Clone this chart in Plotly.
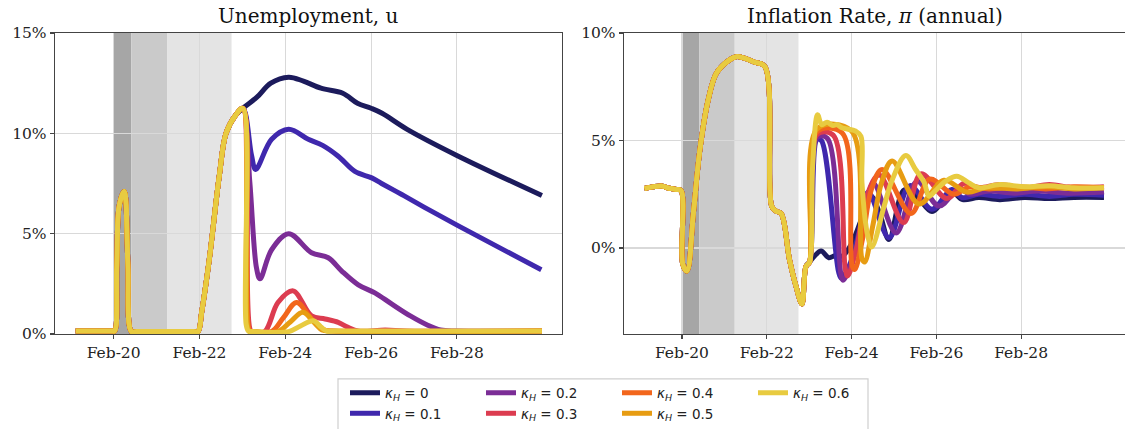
import plotly.graph_objects as go

# ---------------- data ----------------
kappa_labels = ["0", "0.1", "0.2", "0.3", "0.4", "0.5", "0.6"]
line_colors = ["#1c1b5c", "#3f28ad", "#7b2d96", "#dc3c50", "#f2661c", "#e79c12", "#e8cb40"]

# Unemployment (%) — path shared by every kappa up to Feb 2023
u_common_dates = ["2019-03-15", "2019-09-01", "2020-01-20", "2020-02-10", "2020-02-28", "2020-03-20",
                  "2020-05-01", "2020-06-01", "2020-07-01", "2020-08-15", "2021-06-01", "2021-12-15",
                  "2022-01-20", "2022-02-20", "2022-04-25", "2022-07-20", "2022-09-15", "2022-12-05",
                  "2023-02-05"]
u_common = [0.15, 0.15, 0.15, 0.15, 3.3, 6.4, 7.1, 3.6, 0.12, 0.12, 0.12, 0.12,
            0.12, 1.1, 3.7, 7.9, 10.0, 10.9, 11.25]

u_k0_dates = ["2023-06-05", "2023-10-01", "2024-03-01", "2024-07-05", "2024-12-01", "2025-06-05",
              "2025-10-08", "2026-02-01", "2026-05-05", "2026-12-05", "2028-02-01", "2030-01-25"]
u_k0 = [11.8, 12.5, 12.8, 12.6, 12.25, 12.0, 11.5, 11.25, 11.0, 10.2, 8.9, 6.9]

u_k1_dates = ["2023-04-20", "2023-05-25", "2023-10-08", "2024-03-01", "2024-08-15", "2024-12-15",
              "2025-04-27", "2025-09-16", "2026-02-06", "2026-05-01", "2026-10-20", "2027-05-05",
              "2028-02-10", "2030-01-20"]
u_k1 = [8.9, 8.2, 9.7, 10.2, 9.7, 9.4, 8.86, 8.1, 7.78, 7.5, 6.95, 6.3, 5.4, 3.2]

u_k2_dates = ["2023-04-05", "2023-06-01", "2023-07-01", "2023-10-08", "2024-03-01", "2024-09-12",
              "2025-02-01", "2025-05-25", "2025-10-15", "2026-03-05", "2026-07-25", "2027-01-01",
              "2027-05-25", "2027-09-15", "2028-02-01", "2030-01-25"]
u_k2 = [7.6, 3.3, 2.75, 4.2, 5.0, 4.05, 3.8, 3.15, 2.45, 2.05, 1.5, 0.9, 0.45, 0.2, 0.15, 0.15]

u_k3_dates = ["2023-03-12", "2023-04-15", "2023-05-10", "2023-08-10", "2023-12-01", "2024-04-08",
              "2024-09-12", "2025-01-05", "2025-04-27", "2025-07-20", "2025-10-15", "2026-06-01",
              "2026-12-01", "2030-01-25"]
u_k3 = [8.0, 0.15, 0.12, 0.12, 1.57, 2.15, 0.9, 0.75, 0.58, 0.33, 0.15, 0.2, 0.15, 0.15]

u_k4_dates = ["2023-03-10", "2023-04-08", "2023-05-10", "2023-10-08", "2024-01-15", "2024-05-08",
              "2024-09-12", "2025-01-01", "2025-04-01", "2030-01-25"]
u_k4 = [5.0, 0.14, 0.12, 0.12, 0.8, 1.57, 0.75, 0.2, 0.15, 0.15]

u_k5_dates = ["2023-03-08", "2023-04-01", "2023-05-10", "2023-12-01", "2024-03-15", "2024-07-01",
              "2024-10-15", "2024-12-10", "2025-03-01", "2030-01-25"]
u_k5 = [3.0, 0.14, 0.12, 0.12, 0.6, 1.08, 0.5, 0.2, 0.15, 0.15]

u_k6_dates = ["2023-03-05", "2023-03-25", "2023-05-10", "2024-03-01", "2024-06-10", "2024-09-27",
              "2024-12-01", "2025-01-20", "2025-04-01", "2030-01-25"]
u_k6 = [0.5, 0.15, 0.12, 0.12, 0.4, 0.66, 0.35, 0.15, 0.15, 0.15]

# Inflation (%, annual) — path shared by every kappa up to Feb 2023
pi_common_dates = ["2019-03-15", "2019-06-01", "2019-08-10", "2019-10-15", "2019-12-15", "2020-01-25",
                   "2020-02-08", "2020-03-15", "2020-05-10", "2020-07-05", "2020-09-15", "2020-11-25",
                   "2021-03-20", "2021-05-15", "2021-08-10", "2021-10-20", "2022-01-15", "2022-03-15",
                   "2022-04-20", "2022-06-05", "2022-08-15", "2022-10-10", "2022-12-01", "2023-01-05",
                   "2023-02-05"]
pi_common = [2.77, 2.85, 2.88, 2.78, 2.72, 2.67, -0.75, -1.07, 1.64, 4.58, 6.9, 8.14,
             8.76, 8.9, 8.8, 8.64, 8.45, 1.95, 1.72, 1.6, -0.52, -1.76, -2.6, -0.85, -0.65]

pi_k0_dates = ["2023-03-20", "2023-05-15", "2023-07-20", "2023-09-15", "2023-11-15", "2024-02-01",
               "2024-05-01", "2024-07-20", "2024-10-01", "2024-12-20", "2025-05-01", "2025-09-01",
               "2025-12-25", "2026-06-15", "2026-09-15", "2027-02-01", "2027-08-01", "2028-03-01",
               "2028-10-01", "2029-05-01", "2030-01-15"]
pi_k0 = [-0.37, -0.14, -0.45, -0.35, -0.37, 0.2, 1.4, 2.4, 1.6, 0.4, 2.7, 2.3,
         1.7, 2.6, 2.25, 2.35, 2.25, 2.35, 2.3, 2.35, 2.35]

pi_k1_dates = ["2023-04-10", "2023-05-17", "2023-10-12", "2023-11-05", "2024-01-14", "2024-04-08",
               "2024-06-24", "2024-12-21", "2025-06-18", "2025-12-25", "2026-06-13", "2026-09-12",
               "2027-02-01", "2027-08-01", "2028-03-01", "2028-10-01", "2029-05-01", "2030-01-15"]
pi_k1 = [5.05, 5.0, -1.1, -1.4, -0.8, 0.8, 2.6, 0.48, 2.9, 1.8, 2.72, 2.34,
         2.5, 2.4, 2.5, 2.4, 2.5, 2.45]

pi_k2_dates = ["2023-04-12", "2023-07-07", "2023-11-01", "2023-11-20", "2024-02-15", "2024-05-15",
               "2024-08-07", "2025-02-19", "2025-08-18", "2026-02-23", "2026-08-15", "2026-11-15",
               "2027-05-01", "2027-12-01", "2028-07-01", "2029-03-01", "2030-01-15"]
pi_k2 = [5.15, 5.1, -1.2, -1.5, -0.5, 1.2, 3.0, 0.7, 3.1, 1.95, 2.75, 2.5,
         2.65, 2.55, 2.65, 2.55, 2.6]

pi_k3_dates = ["2023-04-13", "2023-08-27", "2023-12-10", "2023-12-30", "2024-03-15", "2024-06-10",
               "2024-09-26", "2025-04-25", "2025-09-21", "2026-05-02", "2026-09-25", "2027-02-01",
               "2027-08-01", "2028-03-01", "2028-10-01", "2029-05-01", "2030-01-15"]
pi_k3 = [5.3, 5.25, -1.0, -1.3, 0.0, 2.4, 3.4, 1.18, 3.45, 2.3, 3.0, 2.8,
         2.95, 2.8, 2.95, 2.8, 2.85]

pi_k4_dates = ["2023-04-13", "2023-11-13", "2024-02-05", "2024-02-28", "2024-05-05", "2024-07-20",
               "2024-10-22", "2025-06-27", "2025-12-05", "2026-07-01", "2026-11-15", "2027-05-01",
               "2028-01-01", "2028-09-01", "2029-05-01", "2030-01-15"]
pi_k4 = [5.42, 5.35, -0.8, -1.0, 0.4, 2.7, 3.65, 1.6, 3.2, 2.5, 2.85, 2.75,
         2.85, 2.75, 2.85, 2.8]

pi_k5_dates = ["2023-04-13", "2024-01-30", "2024-05-01", "2024-05-25", "2024-08-01", "2024-10-20",
               "2025-01-16", "2025-09-04", "2026-04-08", "2026-10-20", "2027-04-01", "2028-01-01",
               "2028-09-01", "2029-05-01", "2030-01-15"]
pi_k5 = [5.55, 5.45, -0.5, -0.65, 1.0, 3.1, 4.05, 2.05, 3.15, 2.6, 2.8, 2.75,
         2.85, 2.75, 2.8]

pi_k6_dates = ["2023-03-03", "2023-04-15", "2023-05-20", "2023-07-05", "2023-08-25", "2023-10-01",
               "2023-11-10", "2024-03-10", "2024-04-22", "2024-05-01", "2024-06-20", "2024-07-25",
               "2024-11-08", "2025-01-18", "2025-05-14", "2025-08-06", "2025-10-20", "2025-11-29",
               "2026-01-20", "2026-04-20", "2026-07-27", "2026-11-05", "2027-02-01", "2027-08-01",
               "2028-03-01", "2028-10-01", "2029-05-01", "2030-01-15"]
pi_k6 = [3.8, 6.2, 5.74, 5.85, 5.7, 5.74, 5.59, 5.43, 5.2, 3.04, 0.56, 0.05,
         1.95, 3.19, 4.3, 3.65, 3.04, 2.41, 2.65, 3.1, 3.34, 3.04, 2.8, 2.95,
         2.85, 2.9, 2.8, 2.8]

# shaded periods
shade_starts = ["2020-02-01", "2020-07-01", "2021-05-01"]
shade_ends = ["2020-07-01", "2021-05-01", "2022-11-01"]
shade_colors = ["#a6a6a6", "#cacaca", "#e4e4e4"]

x_ticks = ["2020-02-01", "2022-02-01", "2024-02-01", "2026-02-01", "2028-02-01"]
x_range = ["2018-09-20", "2030-07-15"]
u_ticks = [0, 5, 10, 15]
u_ticktext = ["0%", "5%", "10%", "15%"]
pi_ticks = [0, 5, 10]
pi_ticktext = ["0%", "5%", "10%"]

u_branches = [(u_k0_dates, u_k0), (u_k1_dates, u_k1), (u_k2_dates, u_k2), (u_k3_dates, u_k3),
              (u_k4_dates, u_k4), (u_k5_dates, u_k5), (u_k6_dates, u_k6)]
pi_branches = [(pi_k0_dates, pi_k0), (pi_k1_dates, pi_k1), (pi_k2_dates, pi_k2), (pi_k3_dates, pi_k3),
               (pi_k4_dates, pi_k4), (pi_k5_dates, pi_k5), (pi_k6_dates, pi_k6)]

# legend rows (matplotlib fills column-wise: 0,0.2,0.4,0.6 on the first row)
legend_of = {0: "legend", 2: "legend", 4: "legend", 6: "legend",
             1: "legend2", 3: "legend2", 5: "legend2"}

# ---------------- figure ----------------
fig = go.Figure()
LW = 5
for i, lab in enumerate(kappa_labels):
    bd, bv = u_branches[i]
    fig.add_trace(go.Scatter(
        x=u_common_dates + bd, y=u_common + bv, mode="lines",
        line=dict(color=line_colors[i], width=LW, shape="spline", smoothing=1),
        name=f"<i>κ</i><sub><i>H</i></sub> = {lab}",
        legend=legend_of[i], showlegend=True, xaxis="x", yaxis="y", hoverinfo="skip"))
for i, lab in enumerate(kappa_labels):
    bd, bv = pi_branches[i]
    fig.add_trace(go.Scatter(
        x=pi_common_dates + bd, y=pi_common + bv, mode="lines",
        line=dict(color=line_colors[i], width=LW, shape="spline", smoothing=1),
        name=f"κ {lab}", showlegend=False, xaxis="x2", yaxis="y2", hoverinfo="skip"))

shapes = []
for xr, yr in (("x", "y domain"), ("x2", "y2 domain")):
    for s, e, c in zip(shade_starts, shade_ends, shade_colors):
        shapes.append(dict(type="rect", xref=xr, yref=yr, x0=s, x1=e, y0=0, y1=1,
                           fillcolor=c, line=dict(width=0), layer="below"))

W, H = 1125, 429
ML, MR, MT, MB = 55, 0, 33, 94
PW, PH = W - ML - MR, H - MT - MB


def px_x(p):
    return (p - ML) / PW


def px_y(p):
    return 1 - (p - MT) / PH


# legend frame
shapes.append(dict(type="rect", xref="paper", yref="paper",
                   x0=px_x(338), x1=px_x(868), y0=px_y(380), y1=px_y(432),
                   line=dict(color="#cfcfcf", width=1.2), fillcolor="rgba(0,0,0,0)", layer="above"))

tick_font = dict(family="DejaVu Serif", size=15.5, color="#222222")
axis_common = dict(showgrid=True, gridcolor="#d9d9d9", gridwidth=1.2, showline=True, mirror=True,
                   linecolor="#444444", linewidth=1.3, ticks="outside", ticklen=4,
                   tickcolor="#444444", tickwidth=1.2, tickfont=tick_font, zeroline=False)

left_dom = [0, px_x(562)]
right_dom = [px_x(624), 1.0]

legend_font = dict(family="DejaVu Sans", size=13.5, color="#222222")

fig.update_layout(
    width=W, height=H, margin=dict(l=ML, r=MR, t=MT, b=MB),
    paper_bgcolor="white", plot_bgcolor="white",
    xaxis=dict(domain=left_dom, type="date", range=x_range, tickvals=x_ticks, tickformat="%b-%y",
               anchor="y", **axis_common),
    yaxis=dict(domain=[0, 1], range=[0, 15], tickmode="array", tickvals=u_ticks,
               ticktext=u_ticktext, anchor="x", **axis_common),
    xaxis2=dict(domain=right_dom, type="date", range=x_range, tickvals=x_ticks, tickformat="%b-%y",
                anchor="y2", **axis_common),
    yaxis2=dict(domain=[0, 1], range=[-4, 10], tickmode="array", tickvals=pi_ticks,
                ticktext=pi_ticktext, anchor="x2", **axis_common),
    shapes=shapes,
    legend=dict(orientation="h", x=px_x(345), y=px_y(393), xanchor="left", yanchor="middle",
                entrywidth=91, entrywidthmode="pixels", bgcolor="rgba(0,0,0,0)", borderwidth=0,
                font=legend_font),
    legend2=dict(orientation="h", x=px_x(345), y=px_y(415), xanchor="left", yanchor="middle",
                 entrywidth=91, entrywidthmode="pixels", bgcolor="rgba(0,0,0,0)", borderwidth=0,
                 font=legend_font),
    annotations=[
        dict(text="Unemployment, u", x=(left_dom[0] + left_dom[1]) / 2, y=px_y(16),
             xref="paper", yref="paper", showarrow=False, xanchor="center", yanchor="middle",
             font=dict(family="DejaVu Serif", size=20, color="#111111")),
        dict(text="Inflation Rate, <i>π</i> (annual)", x=(right_dom[0] + right_dom[1]) / 2,
             y=px_y(16), xref="paper", yref="paper", showarrow=False, xanchor="center",
             yanchor="middle", font=dict(family="DejaVu Serif", size=20, color="#111111")),
    ],
)

fig.write_html("out.html", config={"displayModeBar": False, "staticPlot": True},
               post_script="document.body.style.margin='0px';document.body.style.overflow='hidden';")
